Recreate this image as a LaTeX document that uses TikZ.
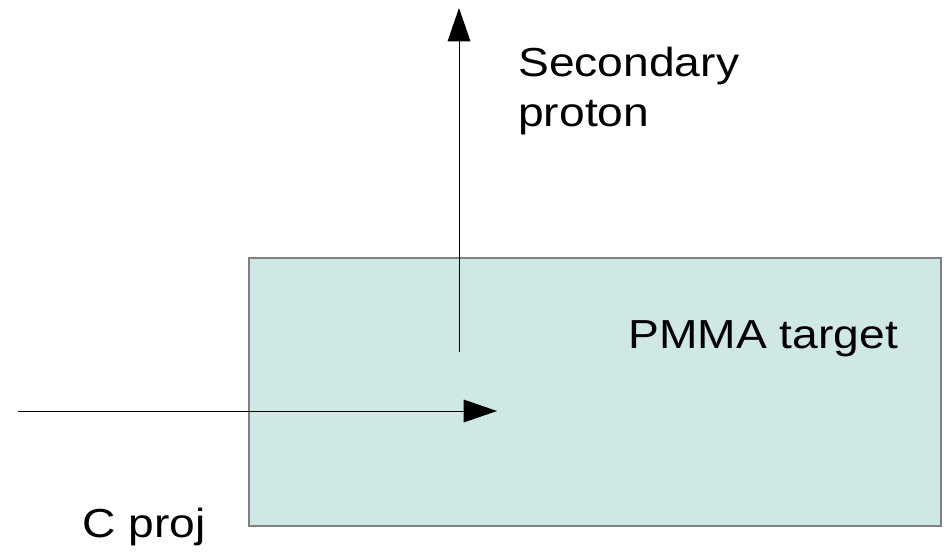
\documentclass[tikz,border=0pt]{standalone}
\usepackage{fontspec}
\setmainfont[FakeStretch=1.14]{Liberation Sans}
\usepackage{tikz}
\usetikzlibrary{arrows.meta}

\definecolor{pmma}{RGB}{207,231,229}
\definecolor{rim}{RGB}{128,128,128}

\tikzset{
	beam/.style={line width=0.75pt, -{Triangle[length=25pt, width=17pt]}},
	lbl/.style={inner sep=0pt, anchor=base west, align=left, font=\fontsize{30.4}{37.5}\selectfont}
}

\begin{document}
\begin{tikzpicture}[x=0.75pt, y=-0.75pt]
	\useasboundingbox (0,0) rectangle (946,552);

	% target block
	\node[draw=rim, fill=pmma, line width=1.2pt, inner sep=0pt, anchor=north west,
		minimum width=519pt, minimum height=201pt] (target) at (248,257) {};
	\node[lbl] (T) at (628,349) {PMMA target};

	% ends of the two tracks
	\coordinate (pstart) at (459,352);
	\coordinate (ptip) at (459,8);
	\coordinate (cstart) at (18,411);
	\coordinate (ctip) at (497,411);

	\draw[beam] (pstart) -- (ptip);
	\draw[beam] (cstart) -- (ctip);

	% base of a two-line node sits on its last line
	\node[lbl] (S) at (518,127) {Secondary\\proton};
	\node[lbl] (C) at (82,537) {C proj};
\end{tikzpicture}
\end{document}
